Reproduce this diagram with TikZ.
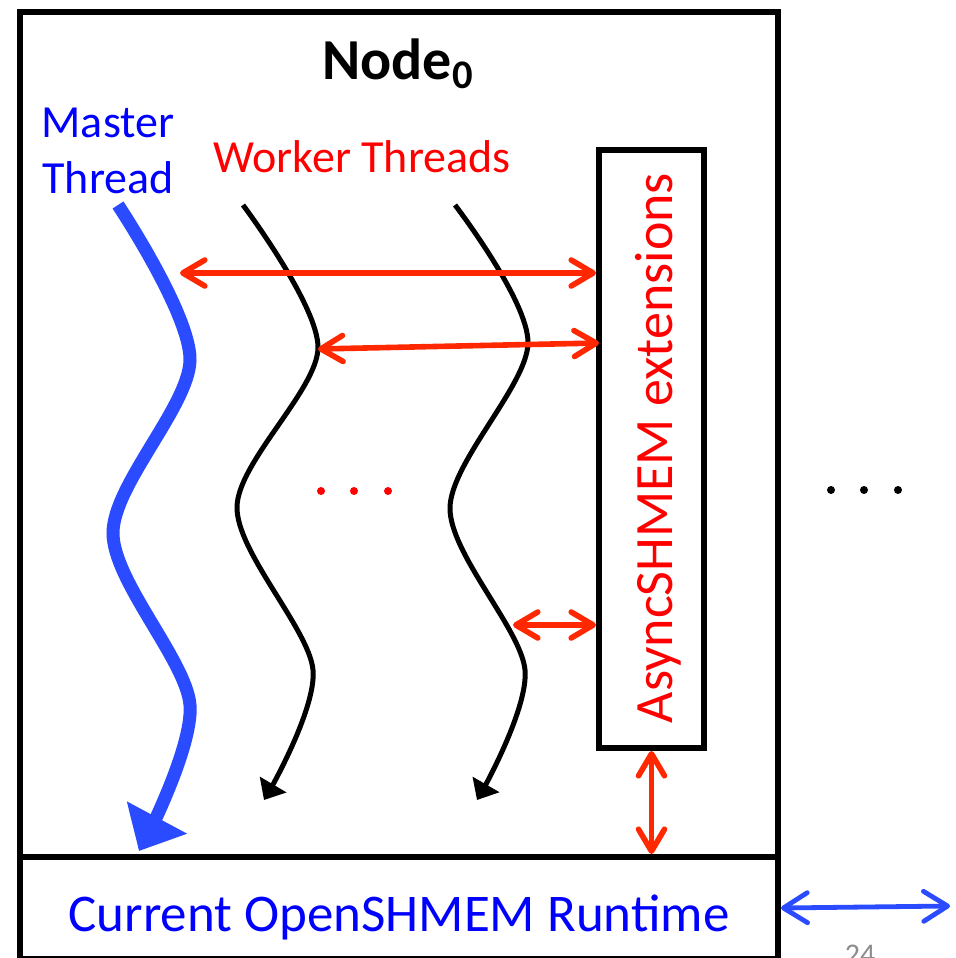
\documentclass[tikz,border=0pt]{standalone}
\usepackage{fontspec}
\setmainfont{Carlito}
\usetikzlibrary{arrows.meta,positioning}
\definecolor{threadblue}{RGB}{42,75,255}
\definecolor{linkred}{RGB}{255,40,0}
\definecolor{pagegray}{RGB}{140,140,140}

\begin{document}
\begin{tikzpicture}[x=0.5pt,y=-0.5pt,
  box/.style={draw,line width=3pt,inner sep=0pt},
  link/.style={linkred,line width=2.8pt,{Straight Barb[length=11pt,width=13pt,round]}-{Straight Barb[length=11pt,width=13pt,round]}},
  master/.style={threadblue,line width=6.5pt,-{Triangle[length=19pt,width=33pt]}},
  worker/.style={black,line width=2.5pt,-{Triangle[length=9pt,width=15pt]}},
  net/.style={threadblue,line width=2.4pt,{Straight Barb[length=12pt,width=15pt,round]}-{Straight Barb[length=12pt,width=15pt,round]}}]
  \clip (0,0) rectangle (955,958);
  % node frame and runtime layer
  \node[box,minimum width=379pt,minimum height=422.5pt,anchor=north west] (node0) at (17,9) {};
  \node[box,minimum width=379pt,minimum height=51pt,anchor=north west,text=blue,
        font=\fontsize{26.5}{30}\selectfont,text height=23pt,text depth=0pt] (rt) at (17,854) {Current OpenSHMEM Runtime};
  \node[font=\fontsize{29}{34}\selectfont\bfseries,anchor=base] (title) at (398,79) {Node\textsubscript{0}};
  \node[text=blue,align=center,font=\fontsize{23}{28}\selectfont] (mlabel) at (108,151) {Master\\Thread};
  \node[text=red,font=\fontsize{23}{26}\selectfont] (wlabel) at (362,157) {Worker Threads};
  % extensions box
  \node[box,minimum width=52.5pt,minimum height=299pt] (ext) at (651.5,449) {};
  \node[text=red,rotate=90,font=\fontsize{27}{30}\selectfont] (extlabel) at (658,448) {AsyncSHMEM extensions};
  % threads
  \draw[master] plot[smooth] coordinates {(118,205) (190,360) (113,533) (190,705) (139,851)};
  \draw[worker] plot[smooth] coordinates {(243,205) (318,348) (237,507) (313,670) (264,800)};
  \draw[worker] plot[smooth] coordinates {(455,205) (528,343) (450,508) (525,670) (477,800)};
  \foreach \x in {321,354,388} \fill[red] (\x,491) circle (2pt);
  % links to the extensions
  \coordinate (m1) at (180,273);
  \coordinate (w1) at (318,349);
  \coordinate (w2) at (513,625);
  \coordinate (e2) at (599,343);
  \draw[link] (m1) -- (m1 -| ext.west);
  \draw[link] (w1) -- (e2);
  \draw[link] (w2) -- (w2 -| ext.west);
  \draw[link] (ext.south) -- (ext.south |- rt.north);
  % other nodes
  \foreach \x in {831,864,898} \fill (\x,490) circle (2pt);
  \coordinate (peer) at (950,906);
  \draw[net] (rt.east) -- (peer);
  \node[text=pagegray,font=\fontsize{15}{18}\selectfont,anchor=base] (page) at (860,964) {24};
\end{tikzpicture}
\end{document}
